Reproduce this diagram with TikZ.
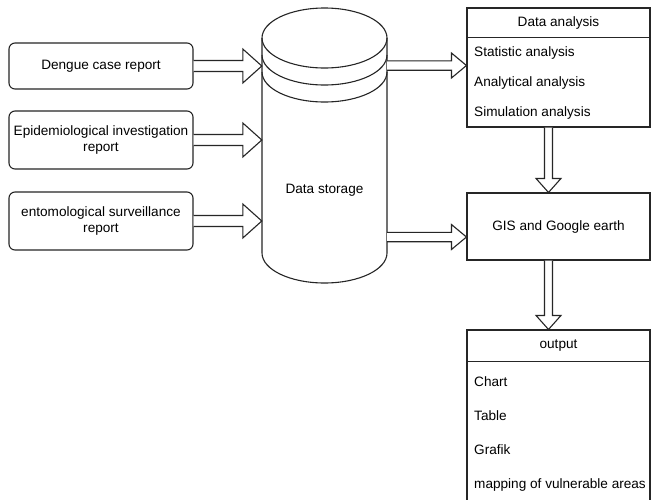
\documentclass[tikz,border=0pt]{standalone}
\usepackage{fontspec}
\setmainfont{Liberation Sans}
\usetikzlibrary{calc}
\tikzset{
  line/.style={draw=black!85, line width=1.1pt},
  inbox/.style={line, rounded corners=6pt, fill=white, minimum width=184pt, align=center, inner sep=0pt},
  sqbox/.style={line, fill=white, minimum width=183pt, inner sep=0pt},
  txt/.style={inner sep=0pt, font=\fontsize{13.6}{15.7}\selectfont},
  item/.style={txt, anchor=west},
  conn/.style={line, fill=white, line join=miter},
}
\newcommand{\harrow}[5]{%
  \draw[conn] let \p1=(#1), \p2=(#2) in
    ({\x1},{\y1+#3}) -- ({\x2-#5},{\y1+#3}) -- ({\x2-#5},{\y1+#4}) -- ({\x2},{\y1})
    -- ({\x2-#5},{\y1-#4}) -- ({\x2-#5},{\y1-#3}) -- ({\x1},{\y1-#3});}
\newcommand{\varrow}[5]{%
  \draw[conn] let \p1=(#1), \p2=(#2) in
    ({\x1-#3},{\y1}) -- ({\x1-#3},{\y2+#5}) -- ({\x1-#4},{\y2+#5}) -- ({\x1},{\y2})
    -- ({\x1+#4},{\y2+#5}) -- ({\x1+#3},{\y2+#5}) -- ({\x1+#3},{\y1});}
\begin{document}
\begin{tikzpicture}[x=1pt,y=-1pt]
\useasboundingbox[fill=white] (0,0) rectangle (651,499);
\clip (0,0) rectangle (651,499);

% input boxes
\node[inbox, txt, minimum height=46pt] (b1) at (101,66) {Dengue case report};
\node[inbox, txt, minimum height=58pt] (b2) at (101,140) {Epidemiological investigation\\report};
\node[inbox, txt, minimum height=58pt] (b3) at (101,221) {entomological surveillance\\report};

% cylinder (data store)
\node[inner sep=0pt, minimum width=125pt, minimum height=275pt] (cyl) at (324.5,145.5) {};
\fill[white] (262,38) -- (262,253) arc[start angle=180, end angle=360, x radius=62.5pt, y radius=30pt]
  -- (387,38) arc[start angle=0, end angle=180, x radius=62.5pt, y radius=30pt] -- cycle;
\draw[line] (324.5,38) ellipse[x radius=62.5pt, y radius=30pt];
\draw[line] (262,38) -- (262,253) arc[start angle=180, end angle=360, x radius=62.5pt, y radius=30pt] -- (387,38);
\draw[line] (262,55) arc[start angle=180, end angle=360, x radius=62.5pt, y radius=30pt];
\draw[line] (262,72) arc[start angle=180, end angle=360, x radius=62.5pt, y radius=30pt];
\node[txt] (cyltext) at (324.5,190) {Data storage};

% data analysis
\node[sqbox, minimum height=119pt] (da) at (558.5,67.5) {};
\draw[line] (da.north west) ++(0,30) -- ++(183,0);
\node[txt] (datitle) at (558.5,23) {Data analysis};
\node[item] (da1) at (474,53) {Statistic analysis};
\node[item] (da2) at (474,83) {Analytical analysis};
\node[item] (da3) at (474,113) {Simulation analysis};

% GIS
\node[sqbox, txt, minimum height=67pt] (gis) at (558.5,226.5) {GIS and Google earth};

% output
\node[sqbox, minimum height=180pt] (out) at (558.5,420) {};
\draw[line] (out.north west) ++(0,32) -- ++(183,0);
\node[txt] (outtitle) at (558.5,346) {output};
\node[item] (o1) at (474,382) {Chart};
\node[item] (o2) at (474,416) {Table};
\node[item] (o3) at (474,450) {Grafik};
\node[item] (o4) at (474,485) {mapping of vulnerable areas};

% connectors
\coordinate (c1) at (387,65.5);
\coordinate (c2) at (387,237);
\coordinate (vx) at (548.5,0);
\harrow{b1.east}{cyl.west |- b1.east}{5.5pt}{17pt}{19pt}
\harrow{b2.east}{cyl.west |- b2.east}{5.5pt}{17pt}{19pt}
\harrow{b3.east}{cyl.west |- b3.east}{5.5pt}{17pt}{19pt}
\harrow{c1}{da.west |- c1}{4.7pt}{12.5pt}{15pt}
\harrow{c2}{gis.west |- c2}{4.7pt}{12.5pt}{15pt}
\varrow{vx |- da.south}{vx |- gis.north}{4pt}{12.5pt}{14pt}
\varrow{vx |- gis.south}{vx |- out.north}{4pt}{12.5pt}{14pt}
\end{tikzpicture}
\end{document}
